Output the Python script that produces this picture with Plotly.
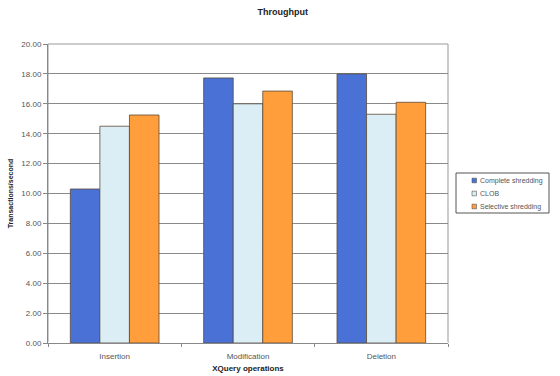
import plotly.graph_objects as go

categories = ["Insertion", "Modification", "Deletion"]
complete_shredding = [10.30, 17.73, 18.00]
clob = [14.50, 16.00, 15.30]
selective_shredding = [15.25, 16.85, 16.10]
y_ticks = [0, 2, 4, 6, 8, 10, 12, 14, 16, 18, 20]

series = [
    ("Complete shredding", complete_shredding, "#4A72D6"),
    ("CLOB", clob, "#DCEEF5"),
    ("Selective shredding", selective_shredding, "#FF9E3A"),
]

W, H = 560, 376
L, R, T, B = 48, 112, 44, 33
PW, PH = W - L - R, H - T - B


def px_x(x):
    return (x - L) / PW


def px_y(y):
    return (H - B - y) / PH


fig = go.Figure()
for name, vals, color in series:
    fig.add_trace(go.Bar(
        x=categories, y=vals, name=name,
        marker=dict(color=color, line=dict(color="#5a4a3a", width=0.8)),
    ))

font = "Liberation Sans, Arial, sans-serif"
fig.update_layout(
    width=W, height=H,
    margin=dict(l=L, r=R, t=T, b=B, autoexpand=False),
    paper_bgcolor="white", plot_bgcolor="white",
    barmode="group", bargap=0.335, bargroupgap=0,
    font=dict(family=font, size=8, color="#444"),
    title=dict(text="<b>Throughput</b>", x=0.505, xanchor="center", y=0.968, yanchor="middle",
               font=dict(family=font, size=9, color="#222")),
    showlegend=False,
    xaxis=dict(
        showline=True, linecolor="#888", linewidth=1,
        ticks="outside", tickson="boundaries", ticklen=3, tickcolor="#888",
        ticklabelstandoff=5,
        tickfont=dict(size=8, color="#555"),
        title=dict(text="<b>XQuery operations</b>", font=dict(family=font, size=8, color="#222"), standoff=5),
    ),
    yaxis=dict(
        range=[0, 20], tickvals=y_ticks, tickformat=".2f",
        showline=True, linecolor="#888", linewidth=1,
        ticks="outside", ticklen=4, tickcolor="#888",
        gridcolor="#8a8a8a", gridwidth=1,
        tickfont=dict(size=8, color="#555"),
        title=dict(text="<b>Transactions/second</b>", font=dict(family=font, size=7, color="#222"), standoff=6),
    ),
)

# frame around the plot area
fig.add_shape(type="rect", xref="paper", yref="paper", x0=0, y0=0, x1=1, y1=1,
              line=dict(color="#999", width=1), layer="below")

# compact legend box on the right
fig.add_shape(type="rect", xref="paper", yref="paper",
              x0=px_x(456), x1=px_x(549), y0=px_y(213), y1=px_y(173),
              line=dict(color="#555", width=1), fillcolor="white")
for i, (name, _, color) in enumerate(series):
    yc = 180.5 + i * 13
    fig.add_shape(type="rect", xref="paper", yref="paper",
                  x0=px_x(472), x1=px_x(476.5), y0=px_y(yc + 2.3), y1=px_y(yc - 2.3),
                  line=dict(color="#555", width=0.6), fillcolor=color)
    fig.add_annotation(xref="paper", yref="paper", x=px_x(477.5), y=px_y(yc),
                       text=name, showarrow=False, xanchor="left", yanchor="middle",
                       font=dict(family=font, size=7, color="#555"))

fig.write_html("out.html")
